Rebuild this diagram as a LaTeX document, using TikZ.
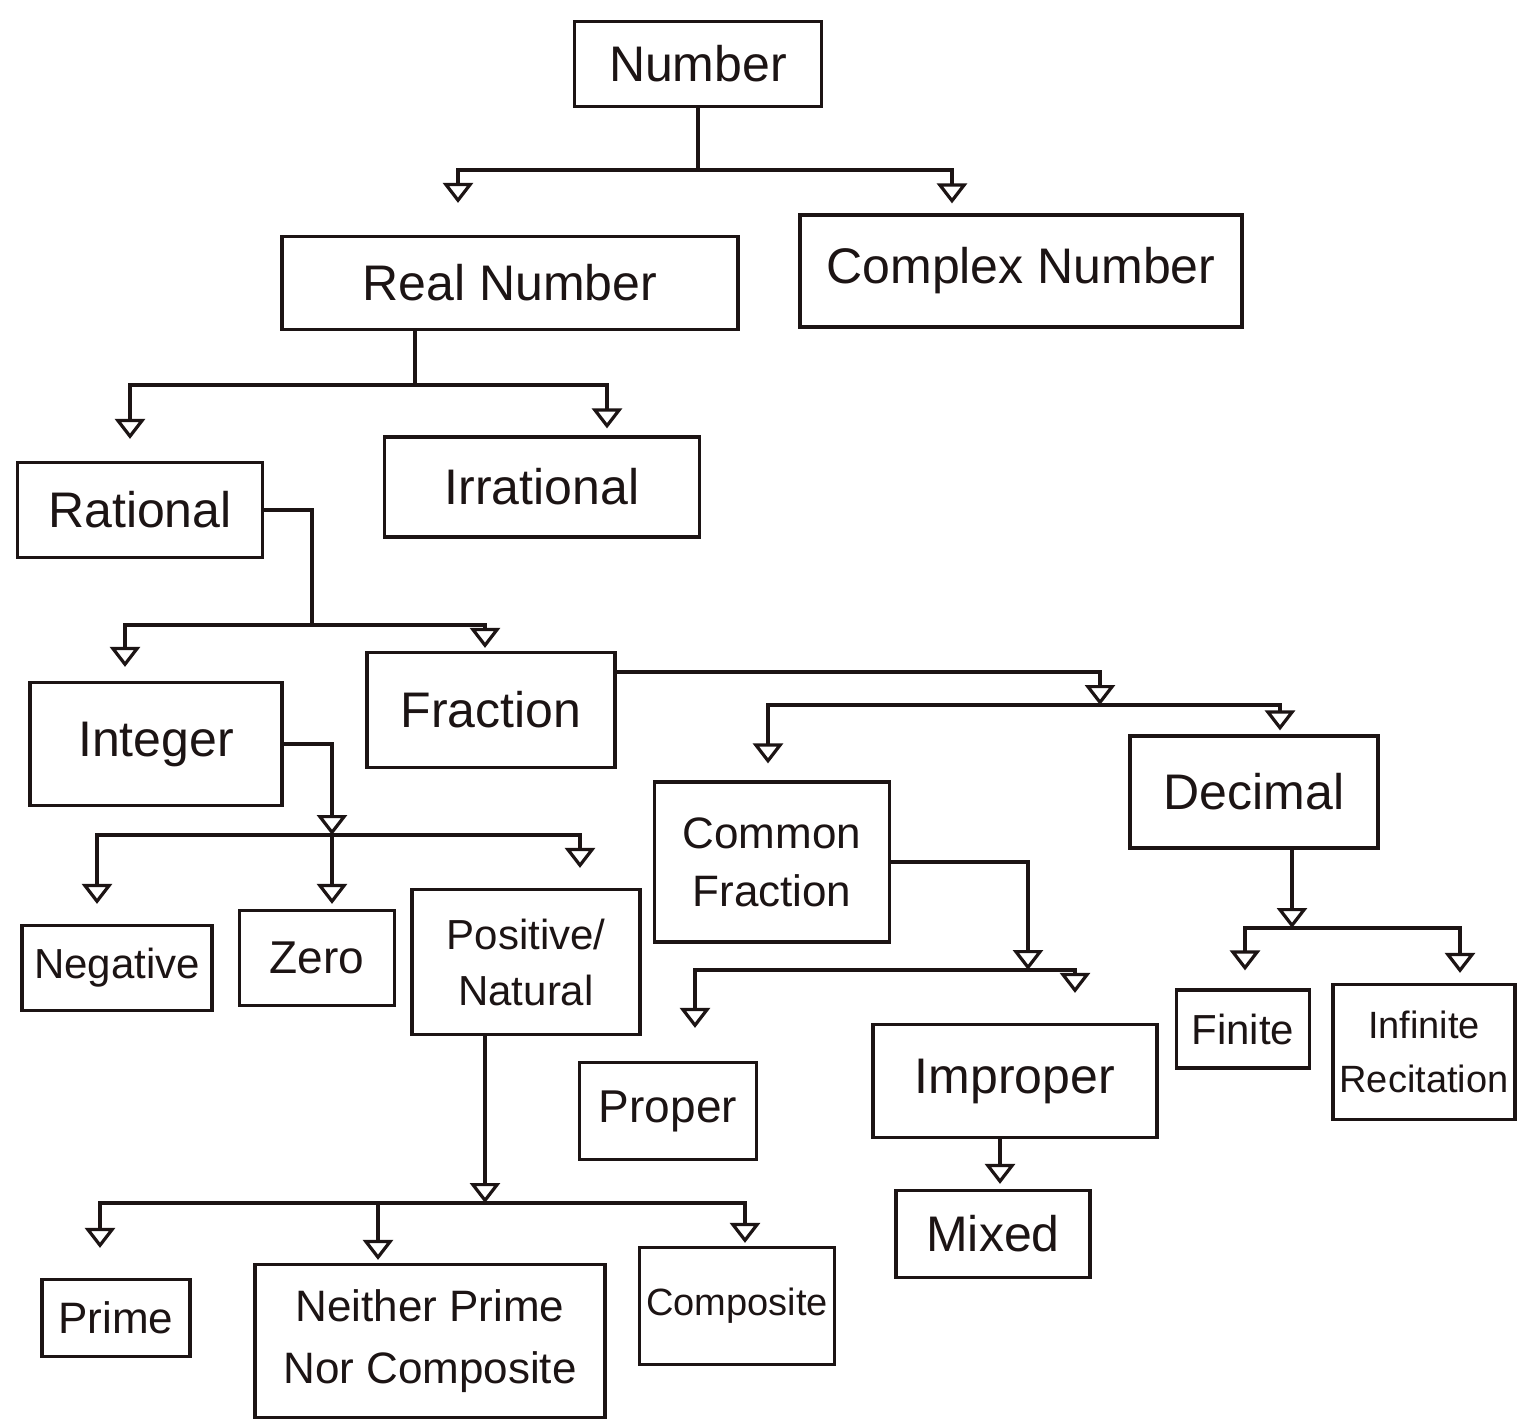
\documentclass[tikz,border=0pt]{standalone}
\usepackage{fontspec}
\setmainfont{Liberation Sans}
\usetikzlibrary{arrows.meta}
\definecolor{ink}{HTML}{1C1414}
\tikzset{
  box/.style={draw=ink, line width=3.2pt, inner sep=0pt, align=center, text=ink,
              font=\fontsize{50}{60}\selectfont},
  ln/.style={draw=ink, line width=3.2pt},
  arr/.style={ln, -{Triangle[open, length=20pt, width=30pt]}},
}
\begin{document}
\begin{tikzpicture}[x=1pt,y=-1pt]
\useasboundingbox[fill=white] (0,0) rectangle (1519,1423);

% boxes
\node[box, minimum width=247pt, minimum height=85pt]  (num)      at (698,64)   {Number};
\node[box, minimum width=456pt, minimum height=93pt]  (real)     at (510,283)  {Real Number};
\node[box, minimum width=442pt, minimum height=112pt] (complex)  at (1021,271) {Complex Number};
\node[box, minimum width=245pt, minimum height=95pt]  (rat)      at (140,510)  {Rational};
\node[box, minimum width=315pt, minimum height=100pt] (irr)      at (542,487)  {Irrational};
\node[box, minimum width=252pt, minimum height=123pt] (int)      at (156,744)  {Integer};
\node[box, minimum width=248pt, minimum height=115pt] (frac)     at (491,710)  {Fraction};
\node[box, minimum width=235pt, minimum height=160pt, font=\fontsize{44}{58}\selectfont] (cfrac) at (772,862) {Common\\Fraction};
\node[box, minimum width=248pt, minimum height=112pt] (dec)      at (1254,792) {Decimal};
\node[box, minimum width=190pt, minimum height=85pt, font=\fontsize{42}{50}\selectfont]  (neg)  at (117,968) {Negative};
\node[box, minimum width=155pt, minimum height=95pt, font=\fontsize{46}{50}\selectfont]  (zero) at (317,958) {Zero};
\node[box, minimum width=228pt, minimum height=145pt, font=\fontsize{42}{56}\selectfont] (pos)  at (526,962) {Positive/\\Natural};
\node[box, minimum width=177pt, minimum height=97pt, font=\fontsize{46}{50}\selectfont]  (proper)   at (668,1111) {Proper};
\node[box, minimum width=284pt, minimum height=113pt] (improper) at (1015,1081) {Improper};
\node[box, minimum width=194pt, minimum height=87pt]  (mixed)    at (993,1234) {Mixed};
\node[box, minimum width=133pt, minimum height=78pt, font=\fontsize{42}{50}\selectfont]  (finite) at (1243,1029) {Finite};
\node[box, minimum width=182pt, minimum height=135pt, font=\fontsize{38}{54}\selectfont] (inf)    at (1424,1052) {Infinite\\Recitation};
\node[box, minimum width=148pt, minimum height=77pt, font=\fontsize{44}{50}\selectfont]  (prime)  at (116,1318) {Prime};
\node[box, minimum width=350pt, minimum height=153pt, font=\fontsize{44}{62}\selectfont] (neither) at (430,1341) {Neither Prime\\Nor Composite};
\node[box, minimum width=195pt, minimum height=117pt, font=\fontsize{38}{50}\selectfont] (comp)   at (737,1306) {Composite};

% junction points
\coordinate (j1) at (698,170);
\coordinate (j2) at (415,385);
\coordinate (j3) at (312,625);
\coordinate (j4) at (332,835);
\coordinate (j5) at (1100,705);
\coordinate (j6) at (1028,970);
\coordinate (j7) at (1292,928);
\coordinate (j8) at (485,1203);

% Number -> Real / Complex
\draw[ln] (num.south) -- (j1);
\draw[arr, shorten >=32pt] (j1) -| (real.north -| 458,0);
\draw[arr, shorten >=10pt] (j1) -| (complex.north -| 952,0);

% Real -> Rational / Irrational
\draw[ln] (real.south -| j2) -- (j2);
\draw[arr, shorten >=22pt] (j2) -| (rat.north -| 130,0);
\draw[arr, shorten >=7pt]  (j2) -| (irr.north -| 607,0);

% Rational -> Integer / Fraction
\draw[ln] (rat.east) -| (j3);
\draw[arr, shorten >=14pt] (j3) -| (int.north -| 125,0);
\draw[arr, shorten >=3pt]  (j3) -| (frac.north -| 485,0);

% Integer -> Negative / Zero / Positive
\draw[arr] (int.east) -| (j4);
\draw[arr, shorten >=20pt] (j4) -| (neg.north -| 97,0);
\draw[arr, shorten >=5pt]  (j4) -- (zero.north -| j4);
\draw[arr, shorten >=20pt] (j4) -| (pos.north -| 580,0);

% Fraction -> Common Fraction / Decimal
\draw[arr] (frac.east |- 0,672) -| (j5);
\draw[arr, shorten >=17pt] (j5) -| (cfrac.north -| 768,0);
\draw[arr, shorten >=4pt]  (j5) -| (dec.north -| 1280,0);

% Common Fraction -> Proper / Improper
\draw[arr] (cfrac.east) -| (j6);
\draw[arr, shorten >=33pt] (j6) -| (proper.north -| 695,0);
\draw[arr, shorten >=30pt] (j6) -| (improper.north -| 1075,0);

% Improper -> Mixed
\draw[arr, shorten >=5pt] (improper.south -| 1000,0) -- (mixed.north -| 1000,0);

% Decimal -> Finite / Infinite
\draw[arr] (dec.south -| j7) -- (j7);
\draw[arr, shorten >=18pt] (j7) -| (finite.north -| 1245,0);
\draw[arr, shorten >=10pt] (j7) -| (inf.north -| 1460,0);

% Positive -> Prime / Neither / Composite
\draw[arr] (pos.south -| j8) -- (j8);
\draw[arr, shorten >=30pt] (j8) -| (prime.north -| 100,0);
\draw[arr, shorten >=3pt]  (j8) -| (neither.north -| 378,0);
\draw[arr, shorten >=3pt]  (j8) -| (comp.north -| 745,0);
\end{tikzpicture}
\end{document}
